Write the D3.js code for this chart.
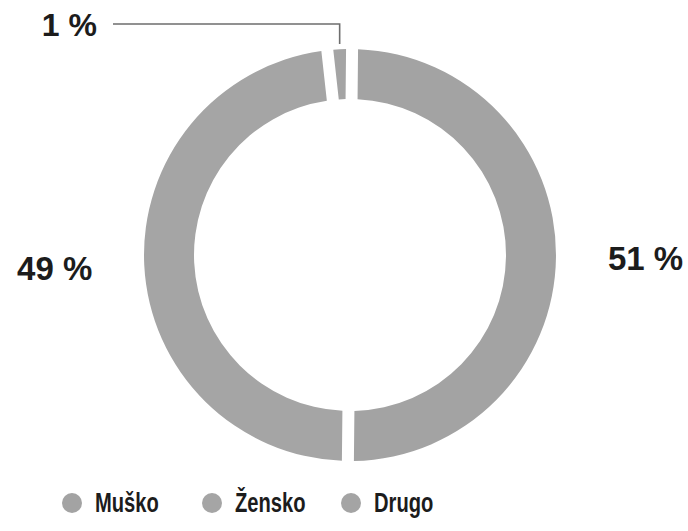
<!DOCTYPE html>
<html>
<head>
<meta charset="utf-8">
<script src="https://cdn.jsdelivr.net/npm/d3@7"></script>
<style>
  html, body { margin: 0; padding: 0; background: #fff; }
  svg { display: block; }
  text { font-family: "Liberation Sans", Arial, Helvetica, sans-serif; font-weight: bold; fill: #1c1c1c; }
</style>
</head>
<body>
<svg id="chart" width="688" height="531"></svg>
<script>
// Gender split (percent)
const categories = ["Muško", "Žensko", "Drugo"];
const values = [51, 49, 1];
const valueLabels = ["51 %", "49 %", "1 %"];
const colors = ["#a3a3a3", "#a5a5a5", "#a4a4a4"];

const width = 688, height = 531;
const cx = 350, cy = 255;
const outerR = 206, innerR = 156;

const svg = d3.select("#chart");
const g = svg.append("g").attr("transform", `translate(${cx},${cy})`);

const pie = d3.pie()
  .value(d => d.value)
  .sort(null)
  .startAngle(0.01)
  .endAngle(0.01 + 2 * Math.PI)
  .padAngle(12 / 200);

const arc = d3.arc()
  .innerRadius(innerR)
  .outerRadius(outerR)
  .padRadius(200);

const data = categories.map((c, i) => ({ name: c, value: values[i], label: valueLabels[i], color: colors[i] }));
const arcs = pie(data);

g.selectAll("path.slice")
  .data(arcs)
  .join("path")
  .attr("class", "slice")
  .attr("d", arc)
  .attr("fill", d => d.data.color);

// Value labels beside the two large slices
const labelR = 258;
arcs.slice(0, 2).forEach(a => {
  const mid = (a.startAngle + a.endAngle) / 2;
  const x = labelR * Math.sin(mid);
  const y = -labelR * Math.cos(mid);
  g.append("text")
    .attr("x", x)
    .attr("y", y)
    .attr("dy", "0.37em")
    .attr("text-anchor", x > 0 ? "start" : "end")
    .attr("font-size", 33)
    .text(a.data.label);
});

// Small slice: leader line up and to the left
const small = arcs[2];
const smallMid = (small.startAngle + small.endAngle) / 2;
const lx = outerR * Math.sin(smallMid);
const ly0 = -(outerR + 5);
const lineY = -231;
const lineX1 = -237;
g.append("path")
  .attr("d", `M${lx},${ly0}V${lineY}H${lineX1}`)
  .attr("fill", "none")
  .attr("stroke", "#6e6e6e")
  .attr("stroke-width", 1.6);
g.append("text")
  .attr("x", lineX1 - 16)
  .attr("y", lineY)
  .attr("dy", "0.37em")
  .attr("text-anchor", "end")
  .attr("font-size", 32)
  .text(small.data.label);

// Legend
const legend = svg.append("g").attr("transform", "translate(72,503)");
const item = legend.selectAll("g.item")
  .data(data)
  .join("g")
  .attr("class", "item")
  .attr("transform", (d, i) => `translate(${[0, 140, 279][i]},0)`);
item.append("circle")
  .attr("r", 10)
  .attr("fill", d => d.color);
item.append("text")
  .attr("transform", "translate(23,9) scale(0.72,1)")
  .attr("font-size", 28)
  .text(d => d.name);
</script>
</body>
</html>
